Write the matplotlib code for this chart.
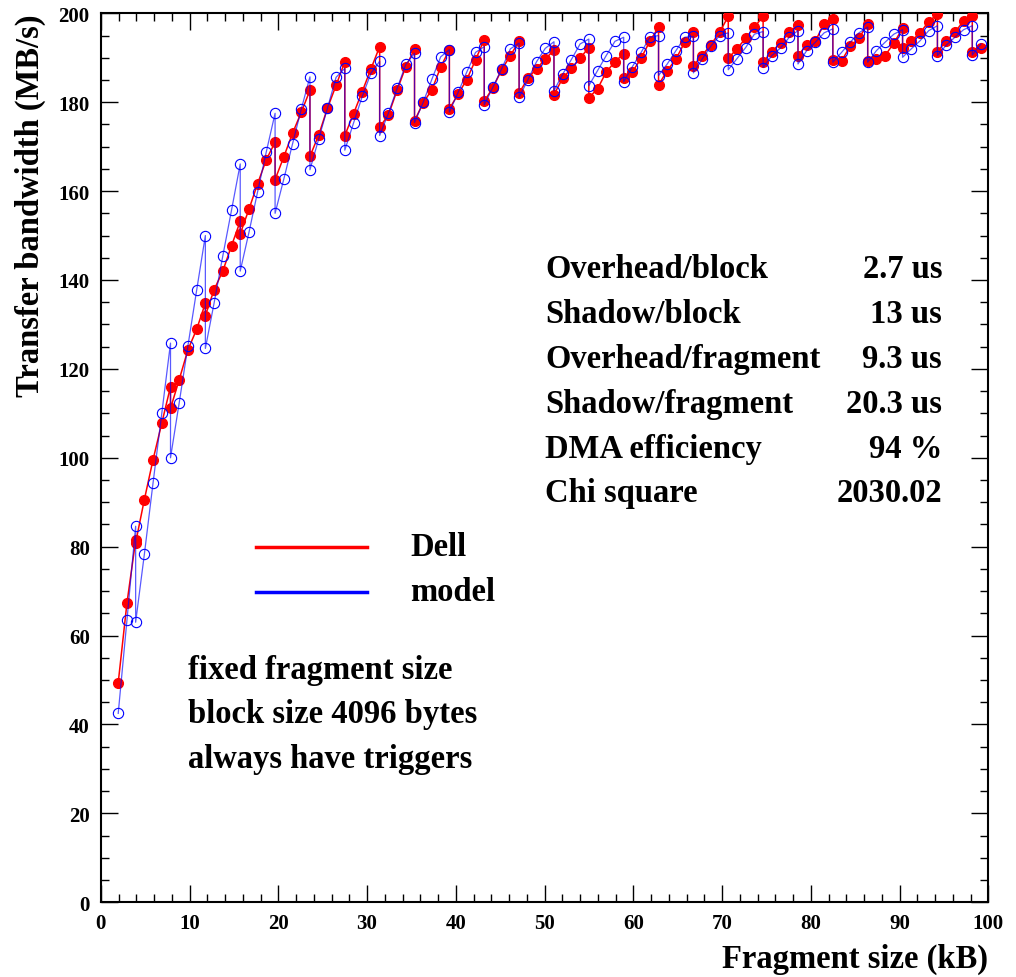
import numpy as np
import matplotlib.pyplot as plt
from matplotlib.lines import Line2D
from matplotlib.ticker import MultipleLocator

plt.rcParams['font.family'] = ['Liberation Serif', 'DejaVu Serif']
plt.rcParams['font.weight'] = 'bold'

# fragment sizes: every kB from 2 to 101, block boundaries (multiples of 4) measured twice
frag = [2, 3, 4, 4, 5, 6, 7, 8, 8, 9, 10, 11, 12, 12, 13, 14, 15, 16, 16, 17, 18, 19, 20, 20,
        21, 22, 23, 24, 24, 25, 26, 27, 28, 28, 29, 30, 31, 32, 32, 33, 34, 35, 36, 36,
        37, 38, 39, 40, 40, 41, 42, 43, 44, 44, 45, 46, 47, 48, 48, 49, 50, 51, 52, 52,
        53, 54, 55, 56, 56, 57, 58, 59, 60, 60, 61, 62, 63, 64, 64, 65, 66, 67, 68, 68,
        69, 70, 71, 72, 72, 73, 74, 75, 76, 76, 77, 78, 79, 80, 80, 81, 82, 83, 84, 84,
        85, 86, 87, 88, 88, 89, 90, 91, 92, 92, 93, 94, 95, 96, 96, 97, 98, 99, 100, 100, 101]
x_kb = np.array(frag) * 0.982

dell = [49.4, 67.3, 81.4, 80.9, 90.6, 99.6, 107.8, 116.0, 111.1, 117.6, 124.3, 128.9, 134.8, 132.0,
        137.8, 142.0, 147.7, 153.2, 150.4, 155.9, 161.7, 167.1, 171.0, 162.6,
        167.7, 173.0, 177.7, 182.7, 167.8, 172.6, 178.6, 183.8, 189.1, 172.5,
        177.4, 182.4, 187.5, 192.5, 174.4, 177.1, 182.7, 188.0, 191.9, 175.8,
        179.9, 182.8, 187.9, 191.8, 178.5, 181.8, 185.1, 189.5, 194.1, 180.2,
        183.3, 187.3, 190.5, 193.7, 182.0, 185.4, 187.5, 189.7, 191.7, 181.7,
        185.4, 187.6, 189.9, 192.3, 181.0, 183.0, 186.8, 189.1, 190.9, 185.4,
        186.8, 189.9, 193.7, 196.9, 183.9, 187.1, 189.7, 193.5, 195.9, 188.2,
        190.5, 192.9, 195.7, 199.3, 189.9, 192.0, 194.4, 196.9, 199.3, 189.0,
        191.4, 193.3, 195.7, 197.4, 190.5, 192.9, 193.8, 197.6, 198.7, 189.6,
        189.3, 192.6, 194.4, 197.6, 189.3, 189.7, 190.5, 193.3, 196.6, 192.1,
        193.7, 195.6, 198.1, 199.8, 191.4, 193.7, 195.7, 198.3, 199.3, 191.2, 192.1]

model = [42.5, 63.4, 84.6, 63.0, 78.3, 94.4, 110.0, 125.8, 100.0, 112.4, 125.2, 137.7, 150.0, 124.6,
         134.8, 145.4, 155.7, 166.1, 142.0, 150.7, 159.9, 168.9, 177.5, 155.0,
         162.7, 170.6, 178.4, 185.7, 164.8, 171.7, 178.6, 185.6, 187.6, 169.2,
         175.3, 181.3, 186.5, 189.2, 172.5, 177.5, 183.1, 188.5, 191.0, 175.4,
         180.0, 185.2, 190.2, 191.8, 177.8, 182.2, 186.8, 191.2, 192.5, 179.4,
         183.4, 187.5, 192.0, 193.3, 181.1, 185.0, 189.1, 192.1, 193.6, 182.6,
         186.3, 189.6, 193.1, 194.2, 183.7, 187.1, 190.5, 193.7, 194.6, 184.6,
         188.0, 191.2, 194.6, 195.0, 186.0, 188.6, 191.6, 194.6, 194.8, 186.6,
         189.7, 192.6, 195.0, 195.6, 187.3, 189.8, 192.3, 195.3, 195.9, 187.8,
         190.5, 192.2, 194.6, 196.1, 188.6, 191.6, 193.5, 195.6, 196.5, 189.0,
         191.2, 193.5, 195.6, 196.9, 189.0, 191.6, 193.5, 195.3, 196.3, 190.1,
         192.0, 193.8, 196.1, 197.2, 190.5, 192.8, 194.6, 196.3, 197.2, 190.6, 193.1]

param_names = ['Overhead/block', 'Shadow/block', 'Overhead/fragment', 'Shadow/fragment',
               'DMA efficiency', 'Chi square']
param_values = ['2.7 us', '13 us', '9.3 us', '20.3 us', '94 %', '2030.02']
notes = ['fixed fragment size', 'block size 4096 bytes', 'always have triggers']

fig = plt.figure(figsize=(10.16, 9.78), dpi=100)
ax = fig.add_axes([0.0992, 0.0764, 0.8735, 0.9090])

ax.plot(x_kb, dell, color='#ff0000', lw=1.1, marker='o', ms=7.0,
        mfc='#ff0000', mec='#ff0000', zorder=3)
ax.plot(x_kb, model, color='#0000ff', lw=0.9, alpha=0.65, zorder=4)
ax.plot(x_kb, model, ls='none', marker='o', ms=7.4, mfc='none',
        mec='#0000ff', mew=0.8, zorder=5)

ax.set_xlim(0, 100)
ax.set_ylim(0, 200)
ax.xaxis.set_major_locator(MultipleLocator(10))
ax.xaxis.set_minor_locator(MultipleLocator(2))
ax.yaxis.set_major_locator(MultipleLocator(20))
ax.yaxis.set_minor_locator(MultipleLocator(5))
ax.tick_params(which='both', direction='in', top=True, right=True, width=1.0,
               labelsize=15, pad=8)
ax.tick_params(which='major', length=12)
ax.tick_params(which='minor', length=6)
for s in ax.spines.values():
    s.set_linewidth(1.5)
for lab in ax.get_xticklabels() + ax.get_yticklabels():
    lab.set_fontweight('bold')

fs = 23.5
fig.text(0.9727, 0.019, 'Fragment size (kB)', ha='right', va='center', fontsize=fs)
fig.text(0.030, 0.9854, 'Transfer bandwidth (MB/s)', ha='center', va='top',
         rotation=90, fontsize=fs)

# legend
ax.add_line(Line2D([0.175, 0.300], [0.3997, 0.3997], transform=ax.transAxes,
                   color='#ff0000', lw=2.5))
ax.add_line(Line2D([0.175, 0.300], [0.3491, 0.3491], transform=ax.transAxes,
                   color='#0000ff', lw=2.5))
ax.text(0.349, 0.3997, 'Dell', transform=ax.transAxes, ha='left', va='center', fontsize=fs)
ax.text(0.349, 0.3491, 'model', transform=ax.transAxes, ha='left', va='center', fontsize=fs)

row_y = [0.7124, 0.6618, 0.6112, 0.5605, 0.5110, 0.4615]
for name, val, yy in zip(param_names, param_values, row_y):
    ax.text(0.5006, yy, name, transform=ax.transAxes, ha='left', va='center', fontsize=fs)
    ax.text(0.948, yy, val, transform=ax.transAxes, ha='right', va='center', fontsize=fs)

for note, yy in zip(notes, [0.2613, 0.2118, 0.1612]):
    ax.text(0.0983, yy, note, transform=ax.transAxes, ha='left', va='center', fontsize=fs)

fig.savefig('out.png', dpi=100)
